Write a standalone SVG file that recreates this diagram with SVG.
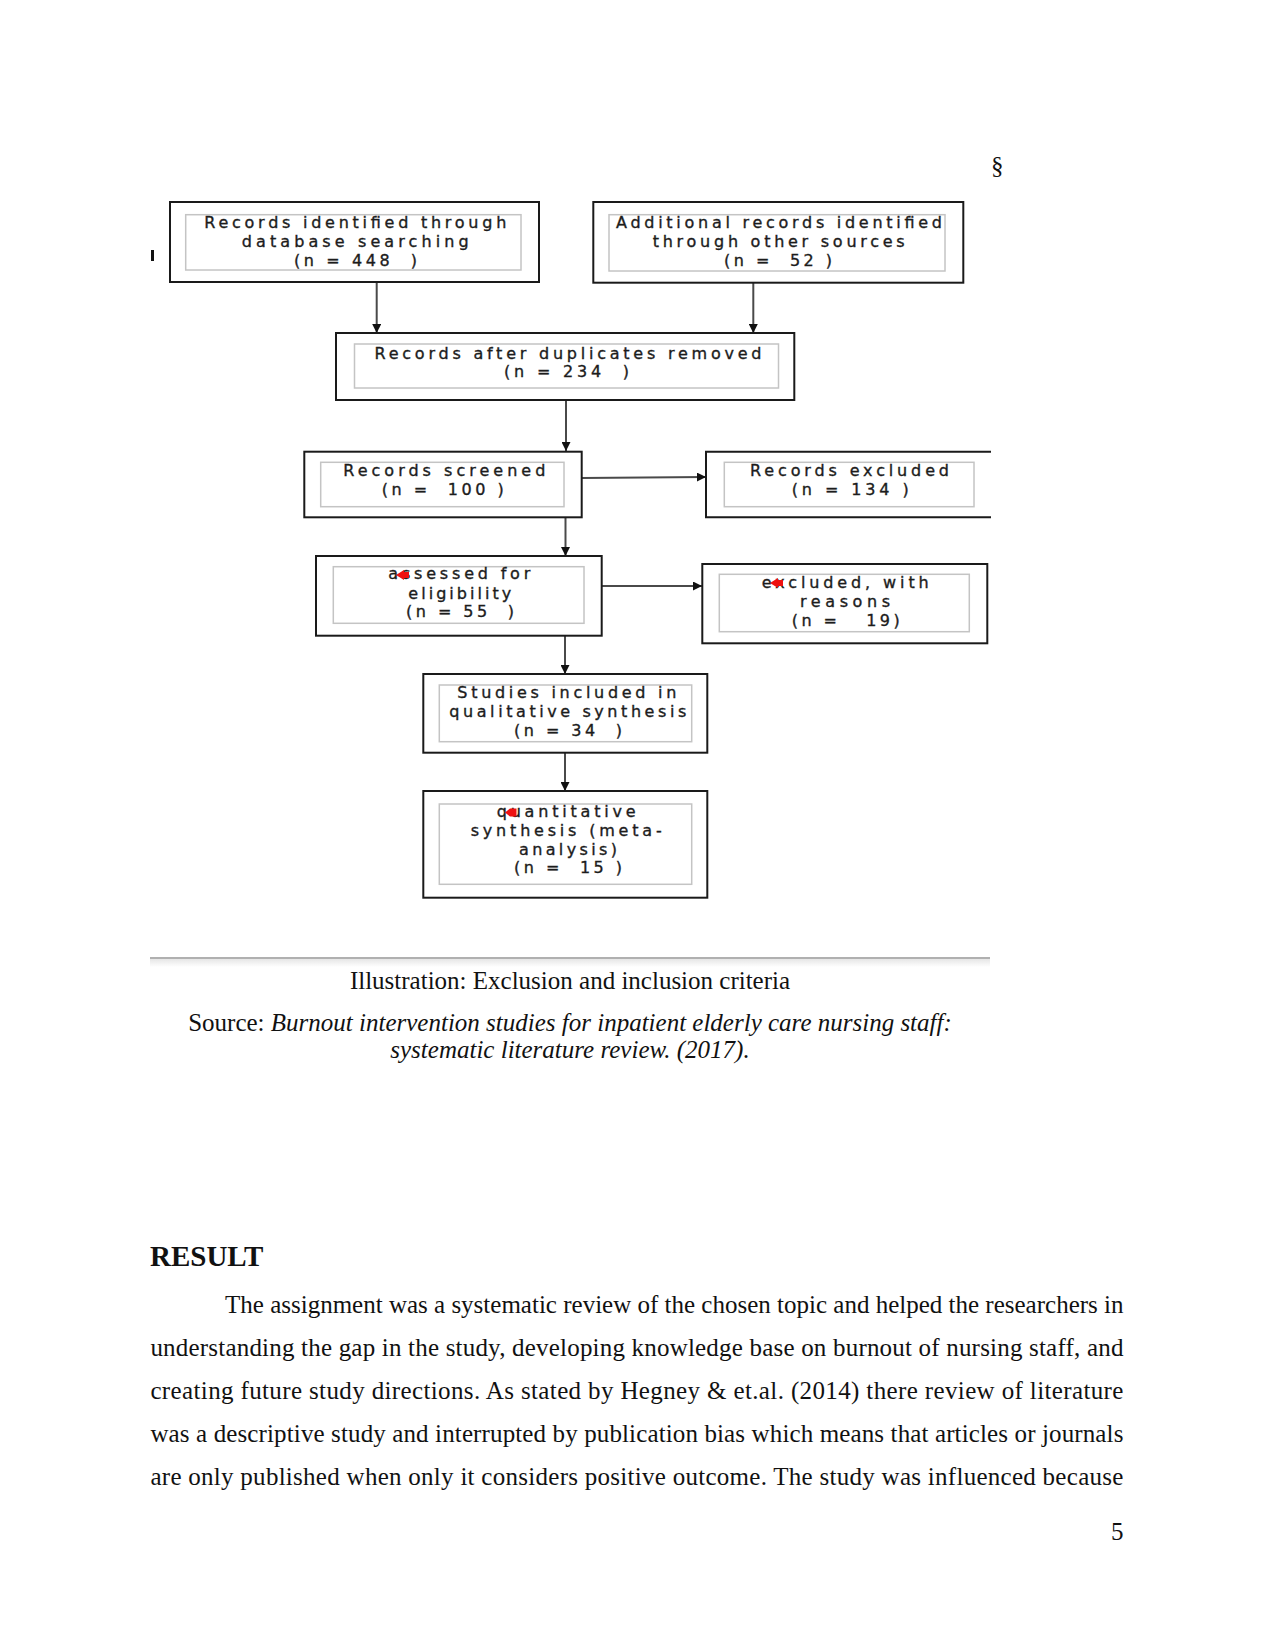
<svg xmlns="http://www.w3.org/2000/svg" width="1275" height="1650" viewBox="0 0 1275 1650">
<defs>
<marker id="ah" viewBox="0 0 10 10" refX="10" refY="5" markerWidth="9" markerHeight="9" markerUnits="userSpaceOnUse" orient="auto">
<path d="M0,0 L10,5 L0,10 Z" fill="#111"/>
</marker>
<linearGradient id="shade" x1="0" y1="0" x2="0" y2="1">
<stop offset="0" stop-color="#e6e6e6"/>
<stop offset="1" stop-color="#ffffff"/>
</linearGradient>
</defs>
<style>
.outer{fill:#fff;stroke:#1a1a1a;stroke-width:2}
.inner{fill:none;stroke:#c4c4c4;stroke-width:1.5}
.bt{font-family:"DejaVu Sans",sans-serif;font-size:16px;fill:#1c1c1c;stroke:#1c1c1c;stroke-width:0.35;white-space:pre}
.conn{stroke:#4a4a4a;stroke-width:2;fill:none;marker-end:url(#ah)}
.serif{font-family:"Liberation Serif","Times New Roman",serif;font-size:25px;fill:#111}
.red{fill:#ee1111}
</style>
<rect width="1275" height="1650" fill="#fff"/>
<text class="serif" x="991" y="174">§</text>
<rect x="151" y="250" width="3" height="11" fill="#111"/>

<g id="connectors">
<path class="conn" d="M376.7,282 V333"/>
<path class="conn" d="M753.3,283 V333"/>
<path class="conn" d="M566,400 V451"/>
<path class="conn" d="M582,478 L706,477"/>
<path class="conn" d="M565.5,517 V556"/>
<path class="conn" d="M602,586 H702"/>
<path class="conn" d="M565,636 V674"/>
<path class="conn" d="M565,753 V791"/>
</g>

<g id="n1">
<rect class="outer" x="170" y="202" width="369" height="80"/>
<rect class="inner" x="185.7" y="214.7" width="335.3" height="55.3"/>
<text class="bt" x="204.3" y="228" textLength="302">Records identified through</text>
<text class="bt" x="241.7" y="247" textLength="227">database searching</text>
<text class="bt" x="294" y="266" textLength="123">(n = 448  )</text>
</g>

<g id="n2">
<rect class="outer" x="593.3" y="202" width="370" height="80.7"/>
<rect class="inner" x="609" y="214.7" width="336" height="56.3"/>
<text class="bt" x="616" y="228" textLength="326">Additional records identified</text>
<text class="bt" x="652.7" y="247" textLength="252">through other sources</text>
<text class="bt" x="724" y="266" textLength="108">(n =  52 )</text>
</g>

<g id="n3">
<rect class="outer" x="336" y="333" width="458.3" height="67"/>
<rect class="inner" x="354.5" y="344" width="424" height="44"/>
<text class="bt" x="374.5" y="359" textLength="387">Records after duplicates removed</text>
<text class="bt" x="504" y="377" textLength="125">(n = 234  )</text>
</g>

<g id="n4">
<rect class="outer" x="304.3" y="451.7" width="277.4" height="65.6"/>
<rect class="inner" x="320.7" y="462.3" width="243.3" height="44.4"/>
<text class="bt" x="343.3" y="476" textLength="202">Records screened</text>
<text class="bt" x="381.7" y="495" textLength="122">(n =  100 )</text>
</g>

<g id="n5">
<path class="outer" d="M991,451.7 H706 V517.3 H991"/>
<rect class="inner" x="724.3" y="462.3" width="249.7" height="44.4"/>
<text class="bt" x="750" y="476" textLength="199">Records excluded</text>
<text class="bt" x="791.7" y="495" textLength="117">(n = 134 )</text>
</g>

<g id="n6">
<rect class="outer" x="316" y="556" width="285.7" height="79.7"/>
<rect class="inner" x="333.3" y="566.7" width="250.7" height="56.6"/>
<text class="bt" x="388.3" y="579.3" textLength="142">assessed for</text>
<text class="bt" x="408.3" y="599.3" textLength="103">eligibility</text>
<text class="bt" x="406" y="617.3" textLength="108">(n = 55  )</text>
<path class="red" d="M396,575 L404,570 L404,572 L409,572 L409,578 L404,578 L404,580 Z"/>
</g>

<g id="n7">
<rect class="outer" x="702.3" y="564" width="285" height="79.3"/>
<rect class="inner" x="719.3" y="574.3" width="250" height="57.4"/>
<text class="bt" x="761.7" y="587.7" textLength="167">excluded, with</text>
<text class="bt" x="800" y="606.7" textLength="90">reasons</text>
<text class="bt" x="791.7" y="625.7" textLength="108">(n =   19)</text>
<path class="red" d="M770,583 L778,578 L778,580 L783,580 L783,586 L778,586 L778,588 Z"/>
</g>

<g id="n8">
<rect class="outer" x="423.3" y="674" width="284" height="78.7"/>
<rect class="inner" x="439.3" y="685" width="252.4" height="56.7"/>
<text class="bt" x="457.3" y="698.3" textLength="219">Studies included in</text>
<text class="bt" x="449.3" y="717.3" textLength="237">qualitative synthesis</text>
<text class="bt" x="514" y="735.7" textLength="108">(n = 34  )</text>
</g>

<g id="n9">
<rect class="outer" x="423.3" y="791" width="284" height="106.7"/>
<rect class="inner" x="439.3" y="804" width="252.4" height="80.3"/>
<text class="bt" x="496.7" y="816.7" textLength="139">quantitative</text>
<text class="bt" x="470.7" y="836" textLength="191">synthesis (meta-</text>
<text class="bt" x="519" y="855" textLength="98">analysis)</text>
<text class="bt" x="514" y="873.3" textLength="108">(n =  15 )</text>
<path class="red" d="M505,812.5 L510,808.5 L516.5,808.5 L516.5,816.5 L510,816.5 Z"/>
</g>

<rect x="150" y="959" width="840" height="8" fill="url(#shade)"/>
<line x1="150" y1="958" x2="990" y2="958" stroke="#b0b0b0" stroke-width="2"/>

<text class="serif" x="570" y="989" text-anchor="middle">Illustration: Exclusion and inclusion criteria</text>
<text class="serif" x="570" y="1031" text-anchor="middle">Source: <tspan font-style="italic">Burnout intervention studies for inpatient elderly care nursing staff:</tspan></text>
<text class="serif" x="570" y="1058" text-anchor="middle" font-style="italic">systematic literature review. (2017).</text>

<text x="150" y="1265.5" font-family="'Liberation Serif','Times New Roman',serif" font-size="29" font-weight="bold" fill="#111">RESULT</text>

<text class="serif" x="225" y="1313" textLength="898.5">The assignment was a systematic review of the chosen topic and helped the researchers in</text>
<text class="serif" x="150.4" y="1356" textLength="973">understanding the gap in the study, developing knowledge base on burnout of nursing staff, and</text>
<text class="serif" x="150.4" y="1399" textLength="973">creating future study directions. As stated by Hegney &amp; et.al. (2014) there review of literature</text>
<text class="serif" x="150.4" y="1442" textLength="973">was a descriptive study and interrupted by publication bias which means that articles or journals</text>
<text class="serif" x="150.4" y="1485" textLength="973">are only published when only it considers positive outcome. The study was influenced because</text>

<text class="serif" x="1123.5" y="1540" text-anchor="end">5</text>
</svg>
